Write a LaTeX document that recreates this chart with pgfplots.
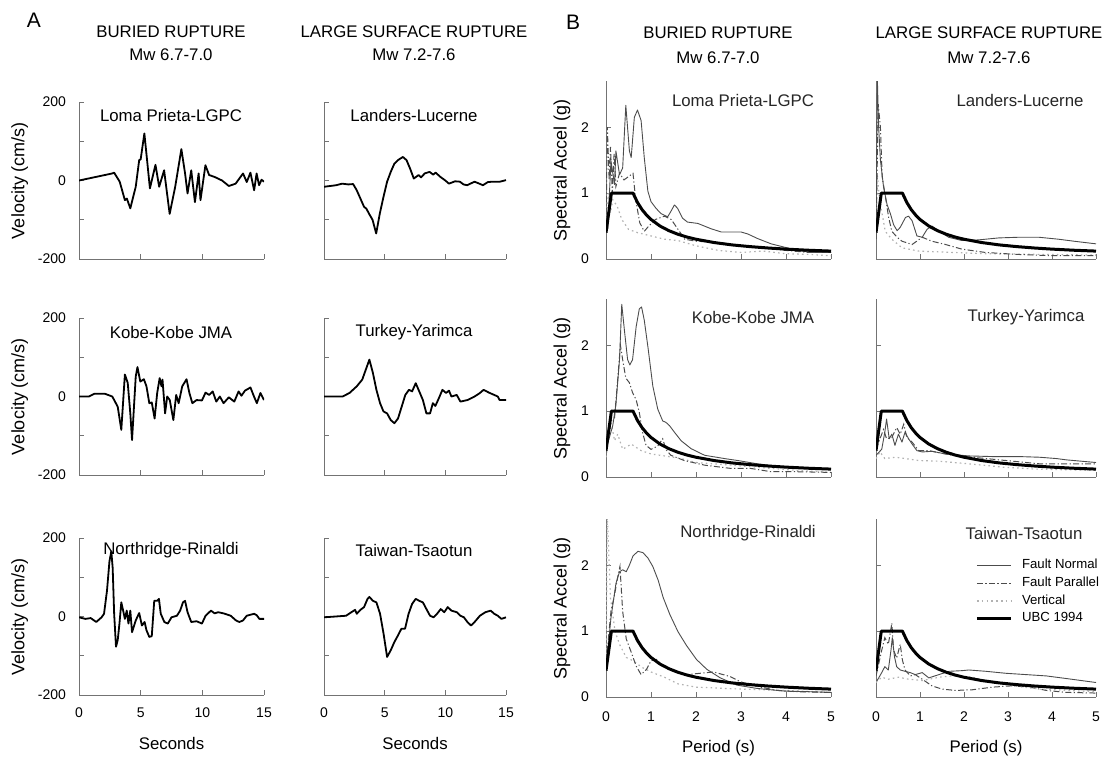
\documentclass[border=0pt]{standalone}
\usepackage{fontspec}
\setmainfont{Liberation Sans}
\usepackage{pgfplots}
\usepackage{pgfplotstable}
\pgfplotsset{compat=1.18}

% UBC 1994 design spectrum (same in every panel of B)
\pgfplotstableread{
T Sa
0 0.4
0.12 1.0
0.6 1.0
0.7 0.857
0.8 0.75
0.9 0.667
1.0 0.6
1.2 0.5
1.4 0.429
1.6 0.375
1.8 0.333
2.0 0.3
2.4 0.25
2.8 0.214
3.2 0.188
3.6 0.167
4.0 0.15
4.5 0.133
5.0 0.12
}\ubc

\newcommand{\hfont}{\fontsize{8.4}{10}\selectfont}

\pgfplotsset{
  base/.style={
    scale only axis, axis lines*=left, enlargelimits=false,
    axis line style={black!55, line width=0.5pt, -},
    tick style={black!55, line width=0.5pt},
    tick align=inside, major tick length=2.5pt,
    /pgf/number format/assume math mode=true,
    tick label style={font=\fontsize{7}{8}\selectfont},
    xlabel style={font=\hfont, at={(axis description cs:0.5,0)}, anchor=center, yshift=-24pt},
    ylabel style={font=\fontsize{9}{10}\selectfont, anchor=center},
  },
  vel/.style={base, width=92.5pt, height=78.5pt,
    xmin=0, xmax=15, ymin=-200, ymax=200,
    xtick={0,5,10,15}, ytick={-200,-100,0,100,200},
    yticklabels={-200,,0,,200},
    yticklabel style={xshift=-3pt},
    xticklabel style={yshift=-3pt},
    ylabel style={at={(axis description cs:-0.32,0.5)}}},
  spec/.style={base, width=112.5pt, height=89pt,
    xmin=0, xmax=5, ymin=0, ymax=2.7,
    xtick={0,1,2,3,4,5}, ytick={0,1,2},
    yticklabel style={xshift=-5pt},
    xticklabel style={yshift=-4pt},
    xlabel style={yshift=-1.5pt},
    ylabel style={at={(axis description cs:-0.196,0.5)}}},
  velline/.style={black, line width=0.9pt, line join=round},
  fn/.style={black!70, line width=0.45pt, line join=round},
  fp/.style={black!70, line width=0.5pt, dash pattern=on 3pt off 1.2pt on 0.6pt off 1.2pt},
  vt/.style={black!30, line width=0.6pt, dash pattern=on 0.8pt off 1.6pt},
  ubcl/.style={black, line width=1.5pt, line join=round},
}

\begin{document}
\begin{tikzpicture}
\useasboundingbox (0,0) rectangle (553pt,-378pt);

% ---------------- A : velocity time histories ----------------
\begin{axis}[vel, at={(39.5pt,-129.5pt)}, anchor=south west, xticklabels={}, ylabel={Velocity (cm/s)}]
\addplot[velline] coordinates {(0,0) (2.7,18) (2.85,20) (3.3,-3) (3.72,-50) (3.88,-46) (4.16,-71) (4.6,-16) (4.88,52) (5.0,54) (5.3,120) (5.75,-20) (6.2,40) (6.5,-16) (6.9,26) (7.35,-85) (7.8,-16) (8.3,80) (8.6,18) (8.8,-33) (9.1,26) (9.4,-55) (9.7,18) (9.85,-50) (10.25,39) (10.55,14) (11.0,9) (11.6,0) (12.15,-14) (12.7,-8) (13.3,18) (13.6,-4) (13.9,20) (14.2,-25) (14.4,18) (14.6,-12) (14.8,2) (15,-3)};
\end{axis}
\begin{axis}[vel, at={(162pt,-129.5pt)}, anchor=south west, width=91pt, xticklabels={}, yticklabels={}]
\addplot[velline] coordinates {(0,-16) (0.5,-14) (1.0,-12) (1.5,-8) (2.0,-10) (2.4,-9) (2.7,-25) (3.0,-46) (3.3,-67) (3.5,-72) (3.7,-84) (4.0,-100) (4.3,-135) (4.6,-84) (4.9,-42) (5.2,-3) (5.5,22) (5.8,43) (6.1,52) (6.5,60) (6.8,52) (7.1,30) (7.4,5) (7.8,14) (8.0,8) (8.3,18) (8.7,22) (9.0,15) (9.2,20) (9.6,9) (10.0,0) (10.3,-8) (10.8,-2) (11.2,-3) (11.5,-10) (11.8,-12) (12.4,-3) (12.8,-8) (13.1,-12) (13.5,-4) (13.9,-3) (14.5,-3) (15,1)};
\end{axis}

\begin{axis}[vel, at={(39.5pt,-237.5pt)}, anchor=south west, xticklabels={}, ylabel={Velocity (cm/s)}]
\addplot[velline] coordinates {(0,0) (0.8,0) (1.25,7) (2.1,7) (2.7,0) (3.14,-26) (3.43,-85) (3.72,56) (3.95,35) (4.16,-43) (4.3,-111) (4.6,51) (4.74,75) (4.97,38) (5.26,44) (5.47,26) (5.7,-17) (5.9,-15) (6.13,-56) (6.34,9) (6.54,47) (6.69,26) (6.77,43) (6.98,-43) (7.15,0) (7.36,-9) (7.65,-60) (7.88,4) (8.08,-17) (8.37,26) (8.72,44) (8.95,9) (9.19,-17) (9.53,-9) (9.97,-10) (10.26,10) (10.55,4) (10.84,13) (11.13,-13) (11.42,0) (11.72,-17) (12.15,-2) (12.59,-13) (12.94,13) (13.17,2) (13.46,15) (13.9,23) (14.19,0) (14.42,-17) (14.71,9) (15,-9)};
\end{axis}
\begin{axis}[vel, at={(162pt,-237.5pt)}, anchor=south west, width=91pt, xticklabels={}, yticklabels={}]
\addplot[velline] coordinates {(0,0) (1.53,0) (2.1,9) (2.7,26) (3.15,43) (3.44,68) (3.74,94) (4.03,60) (4.32,17) (4.62,-17) (4.9,-38) (5.2,-43) (5.5,-60) (5.8,-68) (6.1,-56) (6.4,-26) (6.7,4) (7.0,17) (7.26,13) (7.56,34) (7.85,13) (8.15,-9) (8.44,-43) (8.74,-43) (8.97,-17) (9.18,-24) (9.47,-4) (9.76,17) (10.06,9) (10.3,15) (10.5,0) (10.94,4) (11.24,-13) (11.82,-9) (12.41,0) (12.85,9) (13.15,17) (13.59,10) (14.03,4) (14.32,0) (14.47,-9) (15,-9)};
\end{axis}

\begin{axis}[vel, at={(39.5pt,-347.5pt)}, anchor=south west, xlabel={Seconds}, ylabel={Velocity (cm/s)}]
\addplot[velline] coordinates {(0,-2) (0.52,-6) (0.95,-4) (1.4,-14) (1.83,-2) (2.03,7) (2.27,66) (2.47,141) (2.62,166) (2.73,124) (2.85,7) (3.0,-77) (3.14,-60) (3.28,-18) (3.43,36) (3.58,15) (3.72,-6) (3.87,15) (4.01,-18) (4.16,15) (4.3,-40) (4.6,-10) (4.88,9) (5.1,-23) (5.32,-14) (5.47,-35) (5.7,-52) (5.9,-50) (6.1,40) (6.34,40) (6.48,45) (6.63,7) (6.92,-14) (7.2,-18) (7.5,-2) (7.94,2) (8.2,15) (8.43,36) (8.6,40) (8.8,11) (9.1,-14) (9.53,-12) (9.97,-18) (10.26,2) (10.7,15) (11.0,8) (11.28,11) (11.72,8) (12.3,2) (12.73,-10) (13.0,-14) (13.3,-10) (13.6,2) (14.2,7) (14.42,3) (14.62,-6) (15,-6)};
\end{axis}
\begin{axis}[vel, at={(162pt,-347.5pt)}, anchor=south west, width=91pt, yticklabels={}, xlabel={Seconds}]
\addplot[velline] coordinates {(0,-2) (0.94,0) (1.82,2) (2.26,11) (2.56,17) (2.7,7) (3.0,17) (3.3,24) (3.59,45) (3.74,50) (4.03,40) (4.32,36) (4.62,7) (4.91,-44) (5.2,-103) (5.5,-86) (5.8,-65) (6.1,-48) (6.38,-31) (6.68,-31) (6.97,7) (7.26,32) (7.56,45) (7.85,40) (8.15,36) (8.44,19) (8.74,2) (9.03,-2) (9.32,7) (9.62,19) (9.91,11) (10.2,24) (10.5,15) (10.94,11) (11.24,2) (11.53,-2) (11.82,-14) (12.12,-23) (12.41,-14) (12.85,2) (13.3,11) (13.74,15) (14.03,7) (14.32,2) (14.62,-6) (15,-2)};
\end{axis}

% ---------------- B : response spectra ----------------
\begin{axis}[spec, at={(303pt,-129.5pt)}, anchor=south west, xticklabels={}, ylabel={Spectral Accel (g)}]
\addplot[vt] coordinates {(0,0.4) (0.05,1.0) (0.1,0.7) (0.15,0.9) (0.25,0.8) (0.35,0.6) (0.5,0.45) (0.7,0.4) (1.0,0.35) (1.3,0.3) (1.6,0.28) (2.0,0.2) (2.5,0.13) (3.0,0.1) (3.5,0.12) (4.0,0.08) (4.5,0.07) (5,0.05)};
\addplot[fp] coordinates {(0,0.5) (0.03,2.0) (0.07,1.2) (0.1,1.7) (0.14,1.0) (0.18,1.6) (0.22,1.1) (0.3,1.3) (0.4,1.2) (0.5,1.25) (0.6,1.3) (0.66,0.9) (0.75,0.55) (0.85,0.42) (0.95,0.5) (1.1,0.6) (1.3,0.65) (1.45,0.6) (1.6,0.45) (1.75,0.3) (2.0,0.27) (2.5,0.25) (3.0,0.2) (3.5,0.17) (4.0,0.13) (4.5,0.1) (5,0.1)};
\addplot[fn] coordinates {(0,0.4) (0.04,0.46) (0.11,1.49) (0.19,1.13) (0.22,1.64) (0.3,1.28) (0.37,1.38) (0.44,2.33) (0.52,1.64) (0.56,1.54) (0.63,2.15) (0.7,2.26) (0.78,2.1) (0.85,1.54) (0.93,1.03) (1.0,0.87) (1.11,0.77) (1.22,0.69) (1.37,0.64) (1.44,0.72) (1.52,0.82) (1.59,0.77) (1.7,0.62) (1.81,0.56) (2.04,0.54) (2.33,0.46) (2.56,0.41) (3.0,0.41) (3.15,0.38) (3.37,0.31) (3.67,0.23) (3.96,0.18) (4.26,0.13) (4.56,0.1) (5.0,0.1)};
\addplot[ubcl] table[x=T, y=Sa] {\ubc};
\end{axis}
\begin{axis}[spec, at={(438pt,-129.5pt)}, anchor=south west, width=110pt, xticklabels={}, yticklabels={}]
\addplot[vt] coordinates {(0,0.4) (0.03,1.27) (0.08,0.9) (0.14,0.68) (0.21,0.42) (0.36,0.3) (0.59,0.17) (0.97,0.12) (1.73,0.1) (2.48,0.08) (5,0.06)};
\addplot[fp] coordinates {(0,0.3) (0.05,2.35) (0.1,2.0) (0.14,1.25) (0.2,1.0) (0.29,0.62) (0.36,0.42) (0.48,0.33) (0.59,0.27) (0.82,0.22) (1.05,0.33) (1.27,0.27) (1.58,0.22) (1.95,0.15) (2.48,0.1) (3.2,0.07) (4.0,0.05) (5,0.05)};
\addplot[fn] coordinates {(0,0.5) (0.03,2.75) (0.06,2.0) (0.1,1.5) (0.17,1.1) (0.25,0.83) (0.33,0.68) (0.4,0.52) (0.48,0.43) (0.55,0.48) (0.67,0.63) (0.74,0.65) (0.82,0.58) (0.93,0.35) (1.05,0.33) (1.16,0.45) (1.27,0.5) (1.42,0.43) (1.65,0.33) (1.95,0.28) (2.33,0.29) (2.79,0.32) (3.24,0.33) (3.7,0.33) (4.15,0.3) (4.5,0.27) (5,0.23)};
\addplot[ubcl] table[x=T, y=Sa] {\ubc};
\end{axis}

\begin{axis}[spec, at={(303pt,-238.5pt)}, anchor=south west, xticklabels={}, ylabel={Spectral Accel (g)}]
\addplot[vt] coordinates {(0,0.3) (0.11,0.85) (0.19,0.55) (0.26,0.65) (0.37,0.42) (0.56,0.5) (0.78,0.4) (1.0,0.35) (1.3,0.32) (1.67,0.28) (2.0,0.22) (2.78,0.18) (3.5,0.14) (4.26,0.1) (5,0.07)};
\addplot[fp] coordinates {(0,0.37) (0.11,0.85) (0.19,0.9) (0.26,1.48) (0.32,2.0) (0.37,1.78) (0.44,1.5) (0.52,1.43) (0.59,1.28) (0.67,1.17) (0.74,0.98) (0.81,0.68) (0.89,0.48) (1.0,0.42) (1.15,0.47) (1.26,0.58) (1.33,0.42) (1.44,0.33) (1.74,0.25) (2.19,0.18) (2.78,0.13) (3.22,0.13) (3.67,0.08) (4.26,0.08) (5,0.07)};
\addplot[fn] coordinates {(0,0.42) (0.15,0.78) (0.22,1.1) (0.3,1.78) (0.35,2.62) (0.41,2.22) (0.48,1.78) (0.53,1.7) (0.59,1.78) (0.67,2.28) (0.74,2.55) (0.79,2.58) (0.85,2.38) (0.93,1.98) (1.04,1.38) (1.15,1.03) (1.26,0.85) (1.33,0.83) (1.41,0.78) (1.52,0.68) (1.67,0.55) (1.89,0.43) (2.19,0.33) (2.63,0.28) (2.93,0.25) (3.37,0.2) (3.96,0.15) (4.56,0.13) (5,0.12)};
\addplot[ubcl] table[x=T, y=Sa] {\ubc};
\end{axis}
\begin{axis}[spec, at={(438pt,-238.5pt)}, anchor=south west, width=110pt, xticklabels={}, yticklabels={}]
\addplot[vt] coordinates {(0,0.28) (0.09,0.38) (0.2,0.28) (0.44,0.3) (0.66,0.28) (0.97,0.25) (1.43,0.24) (2.11,0.2) (2.88,0.15) (3.64,0.12) (5,0.1)};
\addplot[fp] coordinates {(0,0.42) (0.09,0.58) (0.17,0.72) (0.24,0.58) (0.36,0.6) (0.47,0.75) (0.55,0.65) (0.63,0.8) (0.7,0.6) (0.82,0.53) (0.97,0.4) (1.2,0.4) (1.73,0.33) (2.5,0.28) (3.26,0.23) (3.72,0.2) (4.18,0.2) (5,0.2)};
\addplot[fn] coordinates {(0,0.33) (0.13,0.42) (0.2,0.68) (0.24,0.88) (0.3,0.58) (0.36,0.65) (0.43,0.48) (0.51,0.65) (0.59,0.53) (0.66,0.68) (0.74,0.58) (0.82,0.5) (0.93,0.4) (1.05,0.38) (1.27,0.39) (1.58,0.35) (2.11,0.32) (2.65,0.31) (3.26,0.31) (3.72,0.3) (4.1,0.28) (4.33,0.26) (5,0.22)};
\addplot[ubcl] table[x=T, y=Sa] {\ubc};
\end{axis}

\begin{axis}[spec, at={(303pt,-348.5pt)}, anchor=south west, xlabel={Period (s)}, ylabel={Spectral Accel (g)}]
\addplot[vt] coordinates {(0,0.5) (0.03,2.75) (0.06,2.2) (0.1,1.5) (0.2,1.0) (0.3,0.8) (0.45,0.6) (0.6,0.55) (0.8,0.45) (1.0,0.38) (1.3,0.3) (1.6,0.2) (2.0,0.15) (3.0,0.12) (4.0,0.1) (5,0.07)};
\addplot[fp] coordinates {(0,0.5) (0.11,1.3) (0.19,1.55) (0.26,1.82) (0.31,1.98) (0.37,1.3) (0.45,0.88) (0.56,0.68) (0.67,0.47) (0.78,0.34) (0.9,0.42) (1.0,0.55) (1.12,0.57) (1.27,0.47) (1.49,0.39) (1.79,0.34) (2.09,0.36) (2.39,0.38) (2.76,0.31) (2.99,0.23) (3.36,0.16) (3.81,0.1) (4.25,0.08) (5,0.07)};
\addplot[fn] coordinates {(0,0.42) (0.11,1.2) (0.22,1.72) (0.3,1.9) (0.37,1.93) (0.45,1.9) (0.52,2.0) (0.6,2.14) (0.71,2.21) (0.82,2.19) (0.93,2.11) (1.04,1.98) (1.16,1.77) (1.27,1.51) (1.42,1.25) (1.6,0.99) (1.79,0.78) (2.01,0.57) (2.24,0.42) (2.54,0.29) (2.91,0.18) (3.36,0.13) (3.96,0.09) (4.55,0.08) (5,0.07)};
\addplot[ubcl] table[x=T, y=Sa] {\ubc};
\end{axis}
\begin{axis}[spec, at={(438pt,-348.5pt)}, anchor=south west, width=110pt, yticklabels={}, xlabel={Period (s)},
  legend style={draw=none, fill=none, at={(axis description cs:0.45,0.785)}, anchor=north west,
    font=\fontsize{6.6}{7.5}\selectfont, row sep=1pt, column sep=4pt, inner sep=0pt,
    nodes={inner sep=0.8pt}},
  legend cell align=left,
  legend image code/.code={\draw[#1] (0pt,0pt) -- (17pt,0pt);}]
\addplot[fn] coordinates {(0,0.22) (0.13,0.37) (0.2,0.46) (0.28,0.41) (0.34,0.71) (0.37,0.9) (0.42,0.61) (0.47,0.46) (0.55,0.41) (0.66,0.39) (0.78,0.37) (0.89,0.34) (1.05,0.37) (1.2,0.29) (1.43,0.34) (1.66,0.39) (1.96,0.4) (2.11,0.41) (2.5,0.39) (2.95,0.36) (3.41,0.34) (3.87,0.32) (4.33,0.28) (5,0.22)};
\addlegendentry{Fault Normal}
\addplot[fp] coordinates {(0,0.32) (0.13,0.71) (0.2,0.9) (0.28,0.8) (0.36,1.12) (0.4,0.71) (0.47,0.59) (0.55,0.8) (0.6,0.56) (0.66,0.41) (0.78,0.32) (0.89,0.34) (1.05,0.27) (1.27,0.17) (1.5,0.12) (1.81,0.1) (2.19,0.11) (2.65,0.15) (3.1,0.17) (3.49,0.15) (3.87,0.1) (4.33,0.07) (5,0.06)};
\addlegendentry{Fault Parallel}
\addplot[vt] coordinates {(0,0.22) (0.13,0.3) (0.28,0.27) (0.51,0.3) (0.74,0.27) (1.05,0.25) (1.43,0.3) (1.73,0.32) (2.19,0.3) (2.65,0.22) (3.1,0.17) (3.72,0.12) (5,0.08)};
\addlegendentry{Vertical}
\addplot[ubcl] table[x=T, y=Sa] {\ubc};
\addlegendentry{UBC 1994}
\end{axis}

% ---------------- headings and panel names ----------------
\node[font=\fontsize{10.5}{12}\selectfont] at (17pt,-10pt) {A};
\node[font=\fontsize{10.5}{12}\selectfont] at (286.5pt,-11pt) {B};
\node[font=\hfont] at (85.5pt,-16pt) {BURIED RUPTURE};
\node[font=\hfont] at (85.5pt,-27.5pt) {Mw 6.7-7.0};
\node[font=\hfont] at (207pt,-16pt) {LARGE SURFACE RUPTURE};
\node[font=\hfont] at (207pt,-27.5pt) {Mw 7.2-7.6};
\node[font=\hfont] at (359pt,-16.5pt) {BURIED RUPTURE};
\node[font=\hfont] at (359pt,-29pt) {Mw 6.7-7.0};
\node[font=\hfont] at (494.5pt,-16.5pt) {LARGE SURFACE RUPTURE};
\node[font=\hfont] at (494.5pt,-29pt) {Mw 7.2-7.6};

\node[font=\hfont] at (85.5pt,-57.5pt) {Loma Prieta-LGPC};
\node[font=\hfont] at (207pt,-57.5pt) {Landers-Lucerne};
\node[font=\hfont] at (85.5pt,-166pt) {Kobe-Kobe JMA};
\node[font=\hfont] at (207pt,-166pt) {Turkey-Yarimca};
\node[font=\hfont] at (85.5pt,-275pt) {Northridge-Rinaldi};
\node[font=\hfont] at (207pt,-275pt) {Taiwan-Tsaotun};

\node[font=\hfont, text=black!85] at (371.5pt,-50pt) {Loma Prieta-LGPC};
\node[font=\hfont, text=black!85] at (510pt,-50pt) {Landers-Lucerne};
\node[font=\hfont, text=black!85] at (376.5pt,-158.5pt) {Kobe-Kobe JMA};
\node[font=\hfont, text=black!85] at (513pt,-158.5pt) {Turkey-Yarimca};
\node[font=\hfont, text=black!85] at (374pt,-266.5pt) {Northridge-Rinaldi};
\node[font=\hfont, text=black!85] at (512pt,-266.5pt) {Taiwan-Tsaotun};
\end{tikzpicture}
\end{document}
